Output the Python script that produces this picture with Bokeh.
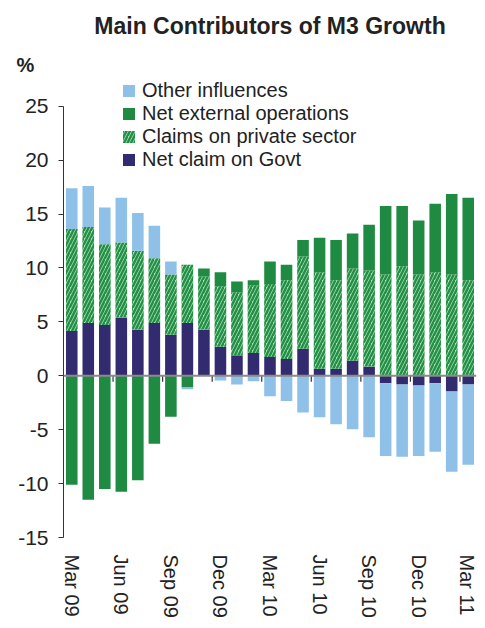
import numpy as np
from bokeh.plotting import figure
from bokeh.models import (ColumnDataSource, Range1d, FixedTicker, Span,
                          Legend, LegendItem, Title)
from bokeh.embed import file_html
from bokeh.resources import INLINE

# ---------------- data ----------------
months = ["Mar 09", "Apr 09", "May 09", "Jun 09", "Jul 09", "Aug 09", "Sep 09",
          "Oct 09", "Nov 09", "Dec 09", "Jan 10", "Feb 10", "Mar 10", "Apr 10",
          "May 10", "Jun 10", "Jul 10", "Aug 10", "Sep 10", "Oct 10", "Nov 10",
          "Dec 10", "Jan 11", "Feb 11", "Mar 11"]
tick_labels = ["Mar 09", "Jun 09", "Sep 09", "Dec 09", "Mar 10", "Jun 10",
               "Sep 10", "Dec 10", "Mar 11"]
y_ticks = [-15, -10, -5, 0, 5, 10, 15, 20, 25]
y_tick_labels = ["-15", "-10", "-5", "0", "5", "10", "15", "20", "25"]

net_claim_govt = [4.15, 4.9, 4.7, 5.4, 4.3, 4.9, 3.8, 4.9, 4.3, 2.7, 1.9, 2.1,
                  1.75, 1.55, 2.5, 0.65, 0.65, 1.4, 0.85, -0.7, -0.8, -0.9,
                  -0.7, -1.45, -0.8]
claims_private = [9.45, 8.9, 7.5, 6.95, 7.3, 6.0, 5.6, 5.4, 4.9, 5.6, 5.85, 6.3,
                  6.75, 7.3, 8.55, 8.95, 8.2, 8.55, 8.9, 9.4, 10.15, 9.4, 9.6,
                  9.4, 8.85]
net_external = [-10.1, -11.5, -10.5, -10.75, -9.7, -6.3, -3.8, -1.1, 0.75, 1.3,
                1.0, 0.45, 2.1, 1.45, 1.55, 3.2, 3.75, 3.25, 4.25, 6.35, 5.6,
                5.0, 6.35, 7.45, 7.65]
other_influences = [3.8, 3.8, 3.4, 4.15, 3.5, 3.0, 1.2, -0.15, 0.0, -0.45, -0.8,
                    -0.5, -1.9, -2.35, -3.4, -3.85, -4.5, -4.95, -5.7, -6.75,
                    -6.7, -6.55, -6.35, -7.45, -7.45]

series_names = ["Net claim on Govt", "Claims on private sector",
                "Net external operations", "Other influences"]

# ---------------- stacking (positives up, negatives down) ----------------
x = np.arange(len(months))
pos_base = np.zeros(len(months))
neg_base = np.zeros(len(months))
stacks = {}
for name, vals in zip(series_names, [net_claim_govt, claims_private,
                                      net_external, other_influences]):
    v = np.array(vals, dtype=float)
    bottom = np.where(v >= 0, pos_base, neg_base)
    top = bottom + v
    pos_base = np.where(v >= 0, top, pos_base)
    neg_base = np.where(v < 0, top, neg_base)
    stacks[name] = ColumnDataSource(dict(x=x, bottom=bottom, top=top))

FONT = "Liberation Sans"
TXT = "#222222"

# frame top at 76px; the 25 tick sits 30px below it; -15 at the frame bottom
Y_MIN, Y_MAX_TICK = -15, 25
FRAME_TOP = 76
units_per_px = (Y_MAX_TICK - Y_MIN) / 436.0
y_top = Y_MAX_TICK + (106 - FRAME_TOP) * units_per_px

p = figure(width=477, height=620, output_backend="svg", toolbar_location=None,
           x_range=Range1d(-0.5, len(months) - 0.5),
           y_range=Range1d(Y_MIN, y_top),
           min_border_left=63, min_border_right=1, min_border_top=FRAME_TOP,
           min_border_bottom=78, outline_line_color=None,
           background_fill_color="white", border_fill_color="white")
p.title = None
p.xgrid.visible = False
p.ygrid.visible = False

styles = {
    "Net claim on Govt": dict(fill_color="#332b6f"),
    "Claims on private sector": dict(fill_color="#b5e2b5", hatch_pattern="/",
                                     hatch_color="#23904a", hatch_scale=7,
                                     hatch_weight=2.5),
    "Net external operations": dict(fill_color="#1f8a42"),
    "Other influences": dict(fill_color="#8fc0e8"),
}
renderers = {}
for name in series_names:
    renderers[name] = p.vbar(x="x", bottom="bottom", top="top", width=0.7,
                             source=stacks[name], line_color=None,
                             **styles[name])

# y axis
ya = p.yaxis[0]
ya.bounds = (Y_MIN, Y_MAX_TICK)
ya.ticker = FixedTicker(ticks=y_ticks)
ya.major_label_overrides = {t: s for t, s in zip(y_ticks, y_tick_labels)}
ya.axis_line_color = "#333333"
ya.major_tick_line_color = "#333333"
ya.major_tick_out = 5
ya.major_tick_in = 0
ya.minor_tick_out = 0
ya.minor_tick_in = 0
ya.major_label_text_font = FONT
ya.major_label_text_font_size = "21px"
ya.major_label_text_color = TXT
ya.major_label_standoff = 10

# labelled x axis (bottom)
xa = p.xaxis[0]
tick_pos = [months.index(t) for t in tick_labels]
xa.ticker = FixedTicker(ticks=tick_pos)
xa.major_label_overrides = {pos: lab for pos, lab in zip(tick_pos, tick_labels)}
xa.major_label_orientation = "vertical"
xa.axis_line_color = None
xa.major_tick_line_color = None
xa.minor_tick_line_color = None
xa.major_tick_out = 0
xa.major_tick_in = 0
xa.major_label_text_font = FONT
xa.major_label_text_font_size = "20px"
xa.major_label_text_color = TXT
xa.major_label_standoff = 17

# zero line and quarter separators hanging below it
sep_x = [t - 0.5 for t in tick_pos[1:]]
p.segment(x0=sep_x, y0=[0] * len(sep_x), x1=sep_x,
          y1=[-6 * units_per_px] * len(sep_x), line_color="#333333",
          line_width=1.2)
p.add_layout(Span(location=0, dimension="width", line_color="#8a8a8a",
                  line_width=2))

# legend
legend_order = ["Other influences", "Net external operations",
                "Claims on private sector", "Net claim on Govt"]
legend = Legend(items=[LegendItem(label=n, renderers=[renderers[n]])
                       for n in legend_order],
                location=(58, 366), orientation="vertical",
                border_line_color=None, background_fill_alpha=0,
                padding=0, margin=0, spacing=0,
                glyph_width=15, glyph_height=15, label_height=20,
                label_standoff=6, label_text_font=FONT,
                label_text_font_size="20px", label_text_color=TXT)
p.add_layout(legend, "center")

# unit label (closest to frame) and main title, both in the top panel
p.add_layout(Title(text="%", align="left", offset=-47, standoff=2,
                   text_font=FONT, text_font_size="20px",
                   text_font_style="bold", text_color=TXT), "above")
p.add_layout(Title(text="Main Contributors of M3 Growth", align="center",
                   offset=-14, standoff=20, vertical_align="top",
                   text_font=FONT, text_font_size="23px",
                   text_font_style="bold", text_color=TXT), "above")

open("out.html", "w").write(file_html(p, INLINE))
